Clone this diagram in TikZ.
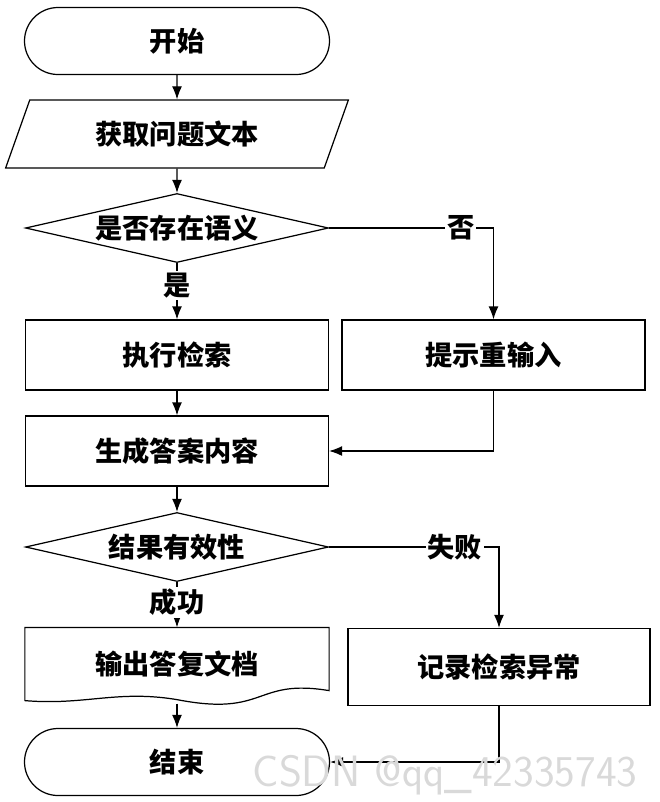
\documentclass[tikz,border=0pt]{standalone}
\usepackage{fontspec}
\setmainfont{Noto Sans CJK SC}
\usetikzlibrary{shapes.geometric,arrows.meta}
\tikzset{
  base/.style={draw,line width=0.7pt,inner sep=0pt,font=\fontsize{15.5}{17}\selectfont\bfseries},
  term/.style={base,rectangle,rounded corners=0.67cm,minimum width=6.1cm,minimum height=1.34cm},
  io/.style={base,trapezium,trapezium left angle=63,trapezium right angle=117,trapezium stretches,minimum width=6.86cm,minimum height=1.36cm},
  proc/.style={base,rectangle,minimum width=6.06cm,minimum height=1.4cm},
  dec/.style={base,diamond,aspect=4.4,minimum width=6.06cm,minimum height=1.38cm},
  lbl/.style={font=\fontsize{15.5}{17}\selectfont\bfseries,fill=white,inner sep=1pt},
  link/.style={line width=0.7pt,-{Latex[length=2.6mm,width=2mm]}}
}
\begin{document}
\begin{tikzpicture}
\useasboundingbox (0,0) rectangle (13.18,-16.04);

\node[term] (start)  at (3.54,-0.82)  {开始};
\node[io]   (input)  at (3.54,-2.68)  {获取问题文本};
\node[dec]  (q1)     at (3.54,-4.56)  {是否存在语义};
\node[proc] (search) at (3.54,-7.10)  {执行检索};
\node[proc] (retry)  at (9.87,-7.10)  {提示重输入};
\node[proc] (gen)    at (3.54,-9.02)  {生成答案内容};
\node[dec]  (q2)     at (3.54,-10.94) {结果有效性};
\node[base,draw=none,rectangle,minimum width=6.06cm,minimum height=1.44cm]
            (out)    at (3.54,-13.28) {输出答复文档};
\node[proc,minimum width=6.04cm,minimum height=1.54cm]
            (log)    at (9.98,-13.34) {记录检索异常};
\node[term] (end)    at (3.54,-15.24) {结束};

% document shape
\draw[line width=0.7pt]
    (out.north west) -- (out.north east) -- ([yshift=0.2cm]out.south east)
    .. controls +(-1.5,0.25) and +(1.8,-0.35) .. ([yshift=0.02cm]out.south)
    .. controls +(-1.2,0.2) and +(1.2,-0.1) .. (out.south west) -- cycle;
\coordinate (outb) at ([yshift=-0.06cm]out.south);

\draw[link] (start) -- (input);
\draw[link] (input) -- (q1);
\draw[link] (q1) -- node[lbl,pos=0.4] {是} (search);
\draw[link] (q1.east) -| node[lbl,pos=0.4] {否} (retry.north);
\draw[link] (search) -- (gen);
\draw[link] (retry.south) |- (gen.east);
\draw[link] (gen) -- (q2);
\draw[link] (q2) -- node[lbl,pos=0.45] {成功} (out);
\draw[link] (q2.east) -| node[lbl,pos=0.37] {失败} (log.north);
\draw[link] (outb) -- (end);
\draw[link] (log.south) |- (end.east);

\node[text=gray!30,font=\fontsize{25}{26}\selectfont\sffamily] (mark) at (8.9,-15.5) {CSDN @qq\_42335743};
\end{tikzpicture}
\end{document}
